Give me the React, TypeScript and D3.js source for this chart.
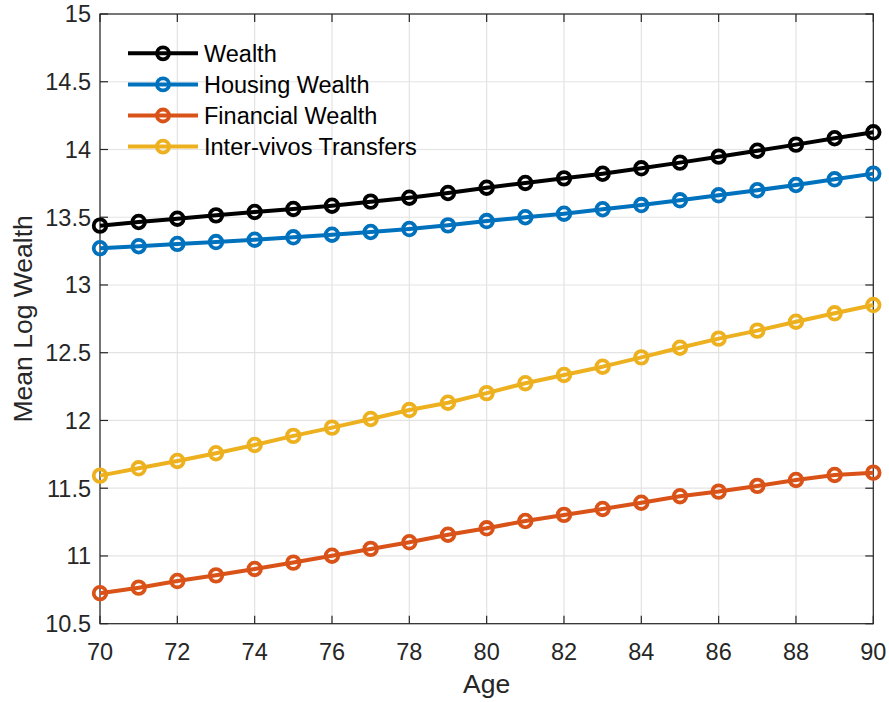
import React from "react";
import * as d3 from "d3";

const ages = [70, 71, 72, 73, 74, 75, 76, 77, 78, 79, 80, 81, 82, 83, 84, 85, 86, 87, 88, 89, 90];
const wealth = [13.438, 13.465, 13.489, 13.514, 13.539, 13.561, 13.585, 13.615, 13.644, 13.679, 13.718, 13.753, 13.787, 13.821, 13.861, 13.903, 13.947, 13.991, 14.036, 14.083, 14.127];
const housing = [13.271, 13.286, 13.303, 13.317, 13.334, 13.352, 13.371, 13.391, 13.413, 13.44, 13.472, 13.5, 13.526, 13.559, 13.59, 13.625, 13.662, 13.699, 13.738, 13.78, 13.822];
const financial = [10.725, 10.766, 10.815, 10.857, 10.904, 10.951, 11.002, 11.052, 11.101, 11.157, 11.204, 11.258, 11.303, 11.347, 11.393, 11.441, 11.475, 11.517, 11.561, 11.598, 11.615];
const transfers = [11.593, 11.647, 11.701, 11.758, 11.819, 11.886, 11.947, 12.011, 12.077, 12.131, 12.202, 12.275, 12.336, 12.397, 12.466, 12.537, 12.604, 12.663, 12.729, 12.791, 12.852];
const seriesNames = ["Wealth", "Housing Wealth", "Financial Wealth", "Inter-vivos Transfers"];
const seriesColors = ["#000000", "#0072BD", "#D95319", "#EDB120"];
const xTicks = [70, 72, 74, 76, 78, 80, 82, 84, 86, 88, 90];
const yTicks = [10.5, 11, 11.5, 12, 12.5, 13, 13.5, 14, 14.5, 15];

const W = 889, H = 702;
const left = 100, right = 873.3, top = 14, bottom = 623.7;

export default function App() {
  const x = d3.scaleLinear().domain([70, 90]).range([left, right]);
  const y = d3.scaleLinear().domain([10.5, 15]).range([bottom, top]);
  const data = [wealth, housing, financial, transfers];
  const line = d3.line<number>().x((_, i) => x(ages[i])).y((d) => y(d));
  const font = "'Liberation Sans', Arial, Helvetica, sans-serif";
  const axisColor = "#262626";
  const tickLen = 8;
  const fs = 23.5;
  const lfs = 26.5;
  return (
    <svg width={W} height={H} style={{ position: "absolute", left: 0, top: 0 }} fontFamily={font}>
      <rect x={0} y={0} width={W} height={H} fill="#fff" />
      {xTicks.map((t) => (
        <line key={"gx" + t} x1={x(t)} x2={x(t)} y1={top} y2={bottom} stroke="#e3e3e3" strokeWidth={1.2} />
      ))}
      {yTicks.map((t) => (
        <line key={"gy" + t} x1={left} x2={right} y1={y(t)} y2={y(t)} stroke="#e3e3e3" strokeWidth={1.2} />
      ))}
      <rect x={left} y={top} width={right - left} height={bottom - top} fill="none" stroke={axisColor} strokeWidth={1.2} />
      {xTicks.map((t) => (
        <g key={"tx" + t}>
          <line x1={x(t)} x2={x(t)} y1={bottom} y2={bottom - tickLen} stroke={axisColor} strokeWidth={1.2} />
          <line x1={x(t)} x2={x(t)} y1={top} y2={top + tickLen} stroke={axisColor} strokeWidth={1.2} />
          <text x={x(t)} y={659.5} textAnchor="middle" fontSize={fs} fill={axisColor}>{t}</text>
        </g>
      ))}
      {yTicks.map((t) => (
        <g key={"ty" + t}>
          <line x1={left} x2={left + tickLen} y1={y(t)} y2={y(t)} stroke={axisColor} strokeWidth={1.2} />
          <line x1={right} x2={right - tickLen} y1={y(t)} y2={y(t)} stroke={axisColor} strokeWidth={1.2} />
          <text x={91} y={y(t)} dy="0.36em" textAnchor="end" fontSize={fs} fill={axisColor}>{t}</text>
        </g>
      ))}
      <text x={(left + right) / 2} y={693} textAnchor="middle" fontSize={lfs} fill={axisColor}>Age</text>
      <text transform={`translate(32, ${(top + bottom) / 2}) rotate(-90)`} textAnchor="middle" fontSize={lfs} fill={axisColor}>Mean Log Wealth</text>
      {data.map((s, k) => (
        <g key={"s" + k}>
          <path d={line(s) || ""} fill="none" stroke={seriesColors[k]} strokeWidth={4} strokeLinejoin="round" />
          {s.map((v, i) => (
            <circle key={i} cx={x(ages[i])} cy={y(v)} r={6.3} fill="none" stroke={seriesColors[k]} strokeWidth={3.8} />
          ))}
        </g>
      ))}
      {seriesNames.map((n, k) => {
        const ly = 53.3 + k * 31.1;
        return (
          <g key={"l" + k}>
            <line x1={128} x2={198} y1={ly} y2={ly} stroke={seriesColors[k]} strokeWidth={4} />
            <circle cx={163} cy={ly} r={6} fill="none" stroke={seriesColors[k]} strokeWidth={3.8} />
            <text x={204} y={ly} dy="0.36em" fontSize={fs} fill="#000">{n}</text>
          </g>
        );
      })}
    </svg>
  );
}
